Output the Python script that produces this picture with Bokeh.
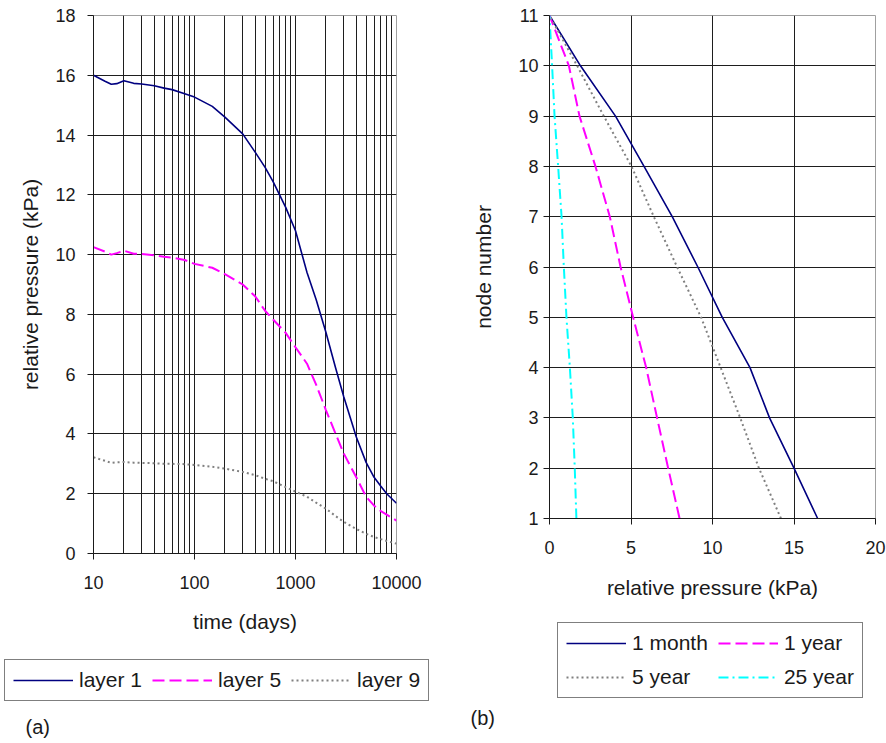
from bokeh.plotting import figure
from bokeh.layouts import row, column
from bokeh.models import FixedTicker, Legend, LegendItem, Label
from bokeh.embed import file_html
from bokeh.resources import INLINE

# ---------------- data (a) ----------------
time_days = [10, 13, 15, 17, 20, 25, 30, 40, 50, 60, 80, 100, 150, 200, 300, 400, 500,
             600, 800, 1000, 1300, 1600, 2000, 2500, 3000, 4000, 5000, 6000, 7000, 8000, 10000]
layer1 = [16.0, 15.8, 15.7, 15.72, 15.82, 15.73, 15.71, 15.65, 15.57, 15.52, 15.38, 15.27,
          14.96, 14.6, 14.04, 13.42, 12.92, 12.44, 11.58, 10.8, 9.4, 8.5, 7.4, 6.2, 5.25,
          3.9, 3.05, 2.55, 2.25, 2.0, 1.68]
layer5 = [10.25, 10.1, 10.0, 10.05, 10.13, 10.03, 10.02, 9.98, 9.93, 9.9, 9.82, 9.69,
          9.56, 9.35, 9.0, 8.6, 8.12, 7.83, 7.38, 6.9, 6.35, 5.65, 4.8, 4.0, 3.35,
          2.55, 1.9, 1.6, 1.42, 1.3, 1.1]
layer9 = [3.22, 3.1, 3.03, 3.05, 3.06, 3.04, 3.03, 3.02, 3.0, 3.0, 2.99, 2.96,
          2.9, 2.84, 2.73, 2.62, 2.5, 2.42, 2.22, 2.07, 1.9, 1.7, 1.5, 1.25, 1.06,
          0.82, 0.66, 0.55, 0.48, 0.42, 0.33]
a_series = ["layer 1", "layer 5", "layer 9"]

# ---------------- data (b) ----------------
node = [1, 2, 3, 4, 5, 6, 7, 8, 9, 10, 11]
p_1month = [16.45, 15.0, 13.5, 12.3, 10.6, 9.1, 7.53, 5.8, 4.05, 1.9, 0.0]
p_1year = [7.98, 7.28, 6.6, 5.93, 5.13, 4.36, 3.7, 2.82, 1.84, 1.19, 0.0]
p_5year = [14.2, 12.85, 11.7, 10.5, 9.3, 7.83, 6.4, 5.03, 3.33, 1.7, 0.0]
p_25year = [1.65, 1.55, 1.43, 1.25, 1.04, 0.88, 0.74, 0.53, 0.31, 0.16, 0.0]
b_series = ["1 month", "1 year", "5 year", "25 year"]

a_xticks = [10, 100, 1000, 10000]
a_xminor = [m * d for d in (10, 100, 1000) for m in range(2, 10)]
a_yticks = list(range(0, 19, 2))
b_xticks = [0, 5, 10, 15, 20]
b_yticks = list(range(1, 12))

FONT = "Liberation Sans"
TXT = "#1a1a1a"
NAVY = "#000080"
MAG = "#FF00FF"
GRAY = "#808080"
CYAN = "#00FFFF"
GRID = "#1e1e1e"
FRAME = "#a0a0a0"

STY_1 = dict(line_color=NAVY, line_width=1.6)
STY_5 = dict(line_color=MAG, line_width=2, line_dash="12 5")
STY_9 = dict(line_color=GRAY, line_width=2, line_dash="2 3")
STY_25 = dict(line_color=CYAN, line_width=2, line_dash="10 4 2 4")

TOTAL_H = 742


def style(p):
    p.outline_line_color = FRAME
    p.outline_line_width = 1
    for ax in (p.xaxis[0], p.yaxis[0]):
        ax.axis_line_color = TXT
        ax.axis_line_width = 1
        ax.major_tick_line_color = TXT
        ax.major_tick_in = 0
        ax.major_tick_out = 6
        ax.minor_tick_line_color = None
        ax.major_label_text_font = FONT
        ax.major_label_text_font_size = "18px"
        ax.major_label_text_color = TXT
        ax.axis_label_text_font = FONT
        ax.axis_label_text_font_size = "21px"
        ax.axis_label_text_font_style = "normal"
        ax.axis_label_text_color = TXT
    p.xaxis[0].major_label_standoff = 16
    for g in (p.xgrid[0], p.ygrid[0]):
        g.grid_line_color = GRID
        g.grid_line_width = 1


def legend_style(lg):
    lg.border_line_color = "black"
    lg.border_line_width = 1
    lg.background_fill_color = "white"
    lg.background_fill_alpha = 1
    lg.label_text_font = FONT
    lg.label_text_font_size = "21px"
    lg.label_text_color = TXT
    lg.glyph_width = 60
    lg.glyph_height = 20
    lg.label_height = 20
    lg.label_standoff = 6
    lg.padding = 8
    lg.spacing = 10
    lg.margin = 0
    lg.orientation = "horizontal"


def strip_fig(w, h):
    f = figure(width=w, height=h, x_range=(0, 1), y_range=(0, 1),
               x_axis_location=None, y_axis_location=None,
               output_backend="svg", toolbar_location=None,
               min_border_left=0, min_border_right=0, min_border_top=0, min_border_bottom=0)
    f.grid.visible = False
    f.outline_line_color = None
    return f


def tag(f, text, x, y):
    f.add_layout(Label(x=x, y=y, x_units="screen", y_units="screen", text=text,
                       text_font=FONT, text_font_size="20px", text_color=TXT,
                       text_baseline="middle", text_align="left"))


off_x = [-3, -2]
off_y = [-3, -2]

# ---------------- figure (a) ----------------
H1 = 640
p1 = figure(width=468, height=H1, x_axis_type="log", x_range=(10, 10000), y_range=(0, 18),
            output_backend="svg", toolbar_location=None,
            min_border_left=93, min_border_right=72, min_border_top=15,
            min_border_bottom=H1 - 553)
style(p1)
p1.xaxis.ticker = FixedTicker(ticks=a_xticks)
p1.yaxis.ticker = FixedTicker(ticks=a_yticks)
p1.xgrid.ticker = FixedTicker(ticks=a_xticks[:-1], minor_ticks=a_xminor)
p1.xgrid.minor_grid_line_color = GRID
p1.xgrid.minor_grid_line_width = 1
p1.ygrid.ticker = FixedTicker(ticks=a_yticks[1:-1])
p1.xaxis.major_label_overrides = {t: str(t) for t in a_xticks}
p1.xaxis.axis_label = "time (days)"
p1.xaxis.axis_label_standoff = 18
p1.yaxis.axis_label = "relative pressure (kPa)"
p1.yaxis.major_label_standoff = 12
p1.yaxis.axis_label_standoff = 10

p1.line(time_days, layer1, **STY_1)
p1.line(time_days, layer5, **STY_5)
p1.line(time_days, layer9, **STY_9)

l1 = strip_fig(468, TOTAL_H - H1)
a1 = l1.line(off_x, off_y, **STY_1)
a5 = l1.line(off_x, off_y, **STY_5)
a9 = l1.line(off_x, off_y, **STY_9)
lg1 = Legend(items=[LegendItem(label=a_series[0], renderers=[a1]),
                    LegendItem(label=a_series[1], renderers=[a5]),
                    LegendItem(label=a_series[2], renderers=[a9])],
             location=(4, TOTAL_H - 701))
legend_style(lg1)
l1.add_layout(lg1)
tag(l1, "(a)", 25, TOTAL_H - 726)

# ---------------- figure (b) ----------------
H2 = 620
p2 = figure(width=418, height=H2, x_range=(0, 20), y_range=(1, 11),
            output_backend="svg", toolbar_location=None,
            min_border_left=81, min_border_right=11, min_border_top=15,
            min_border_bottom=H2 - 518)
style(p2)
p2.xaxis.ticker = FixedTicker(ticks=b_xticks)
p2.yaxis.ticker = FixedTicker(ticks=b_yticks)
p2.xgrid.ticker = FixedTicker(ticks=b_xticks[1:-1])
p2.ygrid.ticker = FixedTicker(ticks=b_yticks[:-1])
p2.xaxis.axis_label = "relative pressure (kPa)"
p2.xaxis.axis_label_standoff = 19
p2.yaxis.axis_label = "node number"
p2.yaxis.major_label_standoff = 5
p2.yaxis.axis_label_standoff = 20

p2.line(p_1month, node, **STY_1)
p2.line(p_1year, node, **STY_5)
p2.line(p_5year, node, **STY_9)
p2.line(p_25year, node, **STY_25)

l2 = strip_fig(418, TOTAL_H - H2)
b1 = l2.line(off_x, off_y, **STY_1)
b2 = l2.line(off_x, off_y, **STY_5)
b3 = l2.line(off_x, off_y, **STY_9)
b4 = l2.line(off_x, off_y, **STY_25)
lg2 = Legend(items=[LegendItem(label=b_series[0], renderers=[b1]),
                    LegendItem(label=b_series[1], renderers=[b2]),
                    LegendItem(label=b_series[2], renderers=[b3]),
                    LegendItem(label=b_series[3], renderers=[b4])],
             location=(557 - 468, TOTAL_H - 698))
legend_style(lg2)
lg2.ncols = 2
l2.add_layout(lg2)
tag(l2, "(b)", 2, TOTAL_H - 717)

layout = row(column(p1, column(l1)), column(p2, column(l2)))
open("out.html", "w").write(file_html(layout, INLINE))
